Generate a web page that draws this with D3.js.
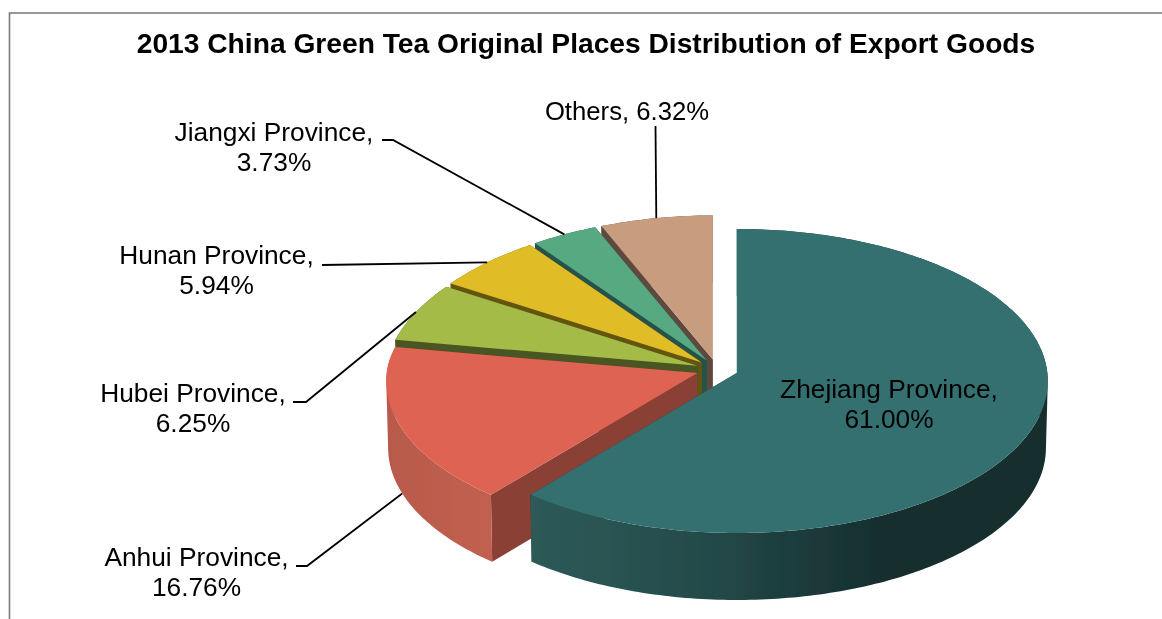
<!DOCTYPE html>
<html><head><meta charset="utf-8">
<script src="https://cdnjs.cloudflare.com/ajax/libs/d3/7.8.5/d3.min.js"></script>
<style>html,body{margin:0;padding:0;background:#fff}svg{display:block}text{font-family:"Liberation Sans",Arial,sans-serif;fill:#000}</style>
</head><body><div id="chart"></div>
<script>
const categories = ["Zhejiang Province","Anhui Province","Hubei Province","Hunan Province","Jiangxi Province","Others"];
const shares = [61.00,16.76,6.25,5.94,3.73,6.32];
const titleText = "2013 China Green Tea Original Places Distribution of Export Goods";
const topColors = ["#367070","#de6353","#a4bc46","#e0bd25","#57a981","#c89d7f"];
const faceColors = ["#1d3c3c","#8a3f35","#4a5520","#64540f","#27534a","#5d4a3c"];

const W=1162,H=619;
const svg=d3.select("#chart").append("svg").attr("width",W).attr("height",H);
const defs=svg.append("defs");
defs.append("filter").attr("id","soft").append("feGaussianBlur").attr("stdDeviation",0.45);
defs.append("filter").attr("id","softText").append("feGaussianBlur").attr("stdDeviation",0.25);
function grad(id,stops){
  const g=defs.append("linearGradient").attr("id",id).attr("gradientUnits","userSpaceOnUse")
    .attr("x1",stops[0][0]).attr("x2",stops[stops.length-1][0]).attr("y1",0).attr("y2",0);
  const a=stops[0][0],b=stops[stops.length-1][0];
  stops.forEach(s=>g.append("stop").attr("offset",(s[0]-a)/(b-a)).attr("stop-color",s[1]));
}
grad("wall0",[[533,"#2d5a58"],[700,"#244b4a"],[880,"#162e2f"],[1048,"#162e2f"]]);
grad("wall1",[[387,"#b85a4b"],[490,"#c2604f"]]);
["wall2","wall3","wall4","wall5"].forEach((id,i)=>grad(id,[[380,faceColors[i+2]],[720,faceColors[i+2]]]));

// frame
svg.append("path").attr("d",`M9.5,${H} V13 H${W}`).attr("fill","none").attr("stroke","#7a7a7a").attr("stroke-width",1.6);

// 3D pie geometry
const cx=717,cy=369.5,explode=21,tilt=0.488,R=310.6,Q=151.6,persp=0.0526,depth=67,backNarrow=0.03;
const arcs=d3.pie().value(d=>d).sort(null).startAngle(0).endAngle(2*Math.PI)(shares);
function center(a){
  const m=(a.startAngle+a.endAngle)/2;
  return [cx+explode*Math.sin(m),cy-explode*tilt*Math.cos(m)];
}
function project(a,theta,r,bottom){
  const c=center(a),u=Math.sin(theta)*r,v=-Math.cos(theta)*r,d=1-persp*v,k=bottom?0.994:1;
  const back=(a.index>0&&v<0)?1-backNarrow*v*v/Math.sqrt(v*v+0.03):1;
  return [c[0]+k*back*R*u/d,c[1]+Q*v/d+(bottom?depth:0)];
}
function rim(a,bottom){
  const n=Math.max(12,Math.ceil((a.endAngle-a.startAngle)*60));
  return d3.range(n+1).map(i=>project(a,a.startAngle+(a.endAngle-a.startAngle)*i/n,1,bottom));
}
const line=d3.line();
const pieG=svg.append("g").attr("filter","url(#soft)");
// far slices first, Zhejiang last
const order=[5,4,3,2,1,0];
order.forEach(i=>{
  const a=arcs[i],c=center(a),top=rim(a,false),bot=rim(a,true);
  const apexB=[c[0],c[1]+depth];
  const g=pieG.append("g");
  g.append("path").attr("d",line([c,top[top.length-1],bot[bot.length-1],apexB])+"Z").attr("fill",faceColors[i]);
  g.append("path").attr("d",line([c,top[0],bot[0],apexB])+"Z").attr("fill",faceColors[i]);
  // outer wall: swept strips in one path, same winding, so the silhouette is continuous and seamless
  const strips=d3.range(top.length-1).map(j=>{
    const q=[top[j],top[j+1],bot[j+1],bot[j]];
    return line(d3.polygonArea(q)<0?q.reverse():q)+"Z";
  }).join("");
  g.append("path").attr("d",strips).attr("fill",`url(#wall${i})`);
  g.append("path").attr("d",line([c].concat(top))+"Z").attr("fill",topColors[i]);
});

// leader lines (anchored on each slice's mid-angle rim)
const leaderStarts={1:[[296,566],[307,566]],2:[[293,402],[306,402]],3:[[322,265]],4:[[382,140],[393,140]],5:[[655.5,126]]};
Object.keys(leaderStarts).forEach(k=>{
  const a=arcs[k],m=(a.startAngle+a.endAngle)/2;
  const end=project(a,m,1,+k===1);
  svg.append("path").attr("d",line(leaderStarts[k].concat([end])))
    .attr("fill","none").attr("stroke","#000").attr("stroke-width",1.8);
});

// text
const fmt=v=>v.toFixed(2)+"%";
const textG=svg.append("g").attr("filter","url(#softText)");
textG.append("text").attr("x",586).attr("y",53).attr("text-anchor","middle")
  .attr("font-size",28.2).attr("font-weight","bold").text(titleText);
const labelPos=[[889,398],[196.5,566],[193,402],[216.5,264],[274,141]];
labelPos.forEach((p,i)=>{
  const t=textG.append("text").attr("text-anchor","middle").attr("font-size",26.3);
  t.append("tspan").attr("x",p[0]).attr("y",p[1]).text(categories[i]+",");
  t.append("tspan").attr("x",p[0]).attr("y",p[1]+30).text(fmt(shares[i]));
});
textG.append("text").attr("x",627).attr("y",120).attr("text-anchor","middle").attr("font-size",25.7)
  .text(categories[5]+", "+fmt(shares[5]));
</script></body></html>
